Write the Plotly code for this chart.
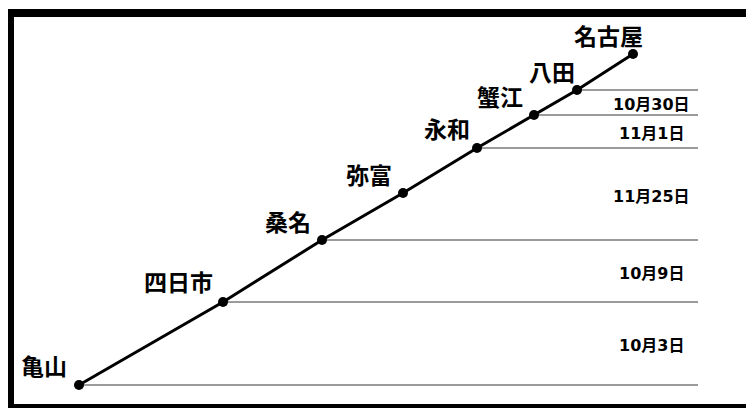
import plotly.graph_objects as go

# ---- data ----
stations = ["亀山", "四日市", "桑名", "弥富", "永和", "蟹江", "八田", "名古屋"]
station_x = [79, 223, 322, 403, 477, 534, 577, 633]
station_y = [385, 302, 240, 193, 148, 115, 90, 54]

seg_from = ["亀山", "四日市", "桑名", "永和", "蟹江"]
seg_to = ["四日市", "桑名", "永和", "蟹江", "八田"]
seg_dates = ["10月3日", "10月9日", "11月25日", "11月1日", "10月30日"]

# ---- layout constants ----
W, H = 754, 408
PAGE_MARGIN = 8  # default body margin of the page
LINE_END_X = 698
DATE_X = 651
label_dx = [-35, -45, -34, -34, -30, -34, -25, -25]
label_dy = [-20, -21, -19, -19, -20, -19, -19, -19]

CJK = "Meiryo, 'Noto Sans CJK JP', sans-serif"
DATE_FONT = "'DejaVu Sans', 'Noto Sans CJK JP', sans-serif"

pos = {s: (x, y) for s, x, y in zip(stations, station_x, station_y)}

fig = go.Figure()

# horizontal boundary lines
bounds = []
for a in seg_from + seg_to:
    if a not in bounds:
        bounds.append(a)
hx, hy = [], []
for b in bounds:
    x, y = pos[b]
    hx += [x, LINE_END_X, None]
    hy += [y, y, None]
fig.add_trace(go.Scatter(x=hx, y=hy, mode="lines",
                         line=dict(color="#7a7a7a", width=1.6),
                         hoverinfo="skip", showlegend=False))

# route line with stations
fig.add_trace(go.Scatter(x=station_x, y=station_y, mode="lines+markers",
                         line=dict(color="black", width=3),
                         marker=dict(color="black", size=10),
                         hoverinfo="skip", showlegend=False))

annotations = []
for s, x, y, dx, dy in zip(stations, station_x, station_y, label_dx, label_dy):
    annotations.append(dict(x=x + dx, y=y + dy, text="<b>%s</b>" % s,
                            showarrow=False, xanchor="center", yanchor="middle",
                            font=dict(family=CJK, size=23, color="black")))
for a, b, d in zip(seg_from, seg_to, seg_dates):
    ymid = (pos[a][1] + pos[b][1]) / 2
    annotations.append(dict(x=DATE_X, y=ymid, text="<b>%s</b>" % d,
                            showarrow=False, xanchor="center", yanchor="middle",
                            yshift=-2,
                            font=dict(family=DATE_FONT, size=16, color="black")))

fig.update_layout(
    width=W - PAGE_MARGIN, height=H - PAGE_MARGIN,
    margin=dict(l=0, r=0, t=0, b=0),
    paper_bgcolor="white", plot_bgcolor="white",
    xaxis=dict(range=[PAGE_MARGIN, W], visible=False, fixedrange=True),
    yaxis=dict(range=[H, PAGE_MARGIN], visible=False, fixedrange=True),
    annotations=annotations,
    shapes=[dict(type="rect", xref="x", yref="y", x0=10, x1=900, y0=13, y1=408,
                 line=dict(color="black", width=8), layer="above")],
)

fig.write_html("out.html",
               post_script="document.documentElement.style.overflow='hidden';")
